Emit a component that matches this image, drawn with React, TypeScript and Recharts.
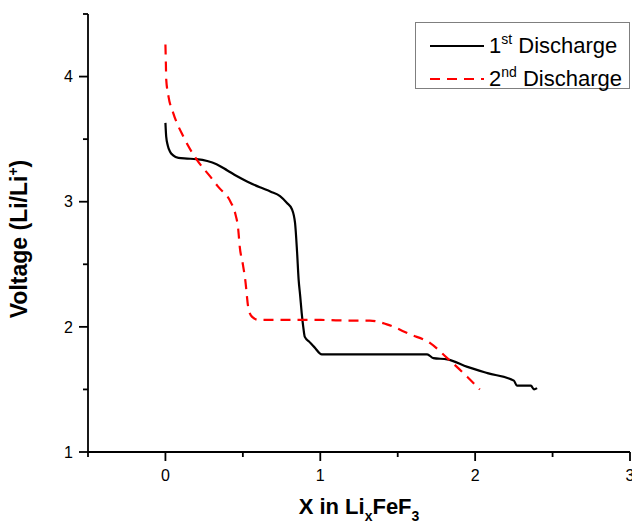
import { Label, Legend, Line, LineChart, XAxis, YAxis } from "recharts";

// 1st discharge (black solid)
const firstX = [0, 0.005, 0.015, 0.03, 0.05, 0.084, 0.14, 0.2, 0.27, 0.33, 0.4, 0.46, 0.53, 0.61, 0.68, 0.74, 0.785, 0.817, 0.837, 0.85, 0.86, 0.87, 0.88, 0.89, 0.9, 0.93, 0.96, 1.01, 1.2, 1.4, 1.6, 1.69, 1.73, 1.82, 1.95, 2.08, 2.25, 2.27, 2.36, 2.38, 2.4];
const firstV = [3.63, 3.52, 3.45, 3.4, 3.37, 3.35, 3.345, 3.34, 3.325, 3.3, 3.25, 3.205, 3.16, 3.115, 3.08, 3.045, 2.99, 2.94, 2.83, 2.6, 2.38, 2.25, 2.11, 2.0, 1.92, 1.88, 1.84, 1.78, 1.78, 1.78, 1.78, 1.78, 1.75, 1.74, 1.68, 1.63, 1.57, 1.53, 1.53, 1.5, 1.51];

// 2nd discharge (red dashed)
const secondX = [0, 0.003, 0.005, 0.02, 0.05, 0.116, 0.2, 0.29, 0.34, 0.42, 0.45, 0.47, 0.48, 0.5, 0.515, 0.537, 0.56, 0.6, 0.8, 1.0, 1.2, 1.32, 1.43, 1.58, 1.71, 1.82, 1.95, 2.03];
const secondV = [4.256, 4.1, 3.98, 3.84, 3.71, 3.52, 3.34, 3.2, 3.12, 3.0, 2.91, 2.78, 2.64, 2.5, 2.38, 2.14, 2.08, 2.056, 2.055, 2.055, 2.05, 2.05, 2.02, 1.94, 1.87, 1.75, 1.6, 1.5];

const xTicks = [-0.5, 0, 0.5, 1, 1.5, 2, 2.5, 3];
const yTicks = [1, 1.5, 2, 2.5, 3, 3.5, 4, 4.5];

const first = firstX.map((x, i) => ({ x, v: firstV[i] }));
const second = secondX.map((x, i) => ({ x, v: secondV[i] }));

const FONT = "'Liberation Sans', Arial, sans-serif";
const TICK = 9;
const MINOR = 5;
const GAP_X = 9;
const GAP_Y = 6;

function XTick(props: any) {
  const { x, y, payload } = props;
  const v = payload.value;
  const major = Number.isInteger(v);
  const axisY = y - TICK - GAP_X;
  return (
    <g>
      <line x1={x} x2={x} y1={axisY} y2={axisY + (major ? TICK : MINOR)} stroke="#000" strokeWidth={1.8} />
      {major && (
        <text x={x} y={y} dy="0.71em" textAnchor="middle" fontSize={16} fontFamily={FONT} fill="#000">
          {v}
        </text>
      )}
    </g>
  );
}

function YTick(props: any) {
  const { x, y, payload } = props;
  const v = payload.value;
  const major = Number.isInteger(v);
  const axisX = x + TICK + GAP_Y;
  return (
    <g>
      <line x1={axisX} x2={axisX - (major ? TICK : MINOR)} y1={y} y2={y} stroke="#000" strokeWidth={1.8} />
      {major && (
        <text x={x} y={y} dy="0.355em" textAnchor="end" fontSize={16} fontFamily={FONT} fill="#000">
          {v}
        </text>
      )}
    </g>
  );
}

function XTitle({ viewBox }: any) {
  const cx = viewBox.x + viewBox.width / 2;
  return (
    <text x={cx} y={viewBox.y + 62} textAnchor="middle" fontSize={22} fontWeight="bold" fontFamily={FONT} fill="#000">
      X in Li
      <tspan dy={7} fontSize={14}>x</tspan>
      <tspan dy={-7}>FeF</tspan>
      <tspan dy={7} fontSize={14}>3</tspan>
    </text>
  );
}

function YTitle({ viewBox }: any) {
  const cy = viewBox.y + viewBox.height / 2 + 6;
  const bx = viewBox.x - 1;
  return (
    <text
      x={bx}
      y={cy}
      transform={`rotate(-90 ${bx} ${cy})`}
      textAnchor="middle"
      fontSize={23}
      fontWeight="bold"
      fontFamily={FONT}
      fill="#000"
    >
      Voltage (Li/Li
      <tspan dy={-9} fontSize={14}>+</tspan>
      <tspan dy={9}>)</tspan>
    </text>
  );
}

function LegendBox() {
  const rows = [
    { n: "1", sup: "st", color: "#000", dash: undefined },
    { n: "2", sup: "nd", color: "#ff0000", dash: "10 7" },
  ];
  return (
    <div
      style={{
        width: 215,
        height: 67,
        boxSizing: "border-box",
        border: "1.5px solid #7f7f7f",
        background: "#fff",
        paddingTop: 6,
        fontFamily: FONT,
      }}
    >
      {rows.map((r) => (
        <div key={r.n} style={{ display: "flex", alignItems: "center", height: 33 }}>
          <svg width={73} height={10} style={{ flex: "none" }}>
            <line x1={14} x2={68} y1={5} y2={5} stroke={r.color} strokeWidth={2.2} strokeDasharray={r.dash} />
          </svg>
          <span style={{ fontSize: 22, color: "#000", lineHeight: 1, whiteSpace: "nowrap" }}>
            {r.n}
            <span style={{ fontSize: 14, position: "relative", top: -9 }}>{r.sup}</span> Discharge
          </span>
        </div>
      ))}
    </div>
  );
}

export default function App() {
  return (
    <div style={{ position: "absolute", left: 0, top: 0, width: 632, height: 525, background: "#fff" }}>
      <LineChart width={632} height={525} margin={{ top: 14, right: 2, left: 28, bottom: 33 }}>
        <XAxis
          dataKey="x"
          type="number"
          domain={[-0.5, 3]}
          ticks={xTicks}
          interval={0}
          allowDataOverflow
          height={40}
          tickLine={false}
          tickSize={TICK}
          tickMargin={GAP_X}
          tick={<XTick />}
          axisLine={{ stroke: "#000", strokeWidth: 1.8 }}
        >
          <Label content={<XTitle />} />
        </XAxis>
        <YAxis
          dataKey="v"
          type="number"
          domain={[1, 4.5]}
          ticks={yTicks}
          interval={0}
          allowDataOverflow
          width={60}
          tickLine={false}
          tickSize={TICK}
          tickMargin={GAP_Y}
          tick={<YTick />}
          axisLine={{ stroke: "#000", strokeWidth: 1.8 }}
        >
          <Label content={<YTitle />} />
        </YAxis>
        <Legend
          layout="vertical"
          align="center"
          verticalAlign="middle"
          content={<LegendBox />}
          wrapperStyle={{ left: 415, top: 22, width: 215, height: 67 }}
        />
        <Line
          data={first}
          dataKey="v"
          name="1st Discharge"
          type="monotone"
          stroke="#000"
          strokeWidth={2.2}
          dot={false}
          isAnimationActive={false}
        />
        <Line
          data={second}
          dataKey="v"
          name="2nd Discharge"
          type="monotone"
          stroke="#ff0000"
          strokeWidth={2.2}
          strokeDasharray="10 7"
          dot={false}
          isAnimationActive={false}
        />
      </LineChart>
    </div>
  );
}
